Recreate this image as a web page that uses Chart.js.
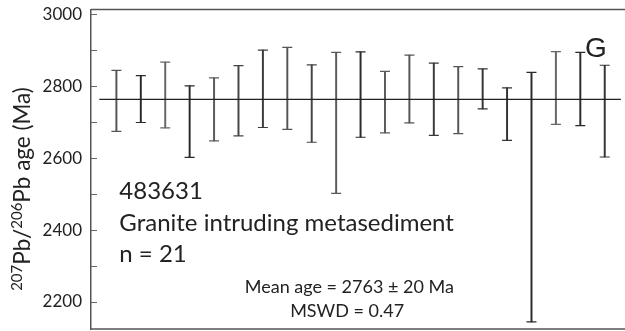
<!DOCTYPE html>
<html>
<head>
<meta charset="utf-8">
<script src="https://cdn.jsdelivr.net/npm/chart.js@4.4.1/dist/chart.umd.min.js"></script>
<style>
  html, body { margin: 0; padding: 0; background: #fff; overflow: hidden; }
  #wrap { width: 625px; height: 331px; position: relative; }
</style>
</head>
<body>
<div id="wrap"><canvas id="age-chart"></canvas></div>
<script>
// spot number along the x axis
const grains = [1, 2, 3, 4, 5, 6, 7, 8, 9, 10, 11, 12, 13, 14, 15, 16, 17, 18, 19, 20, 21];
// upper and lower end of each 207Pb/206Pb age error bar (Ma)
const ageHigh = [2844, 2829, 2867, 2801, 2823, 2857, 2900, 2908, 2859, 2894, 2895, 2841, 2886, 2864, 2854, 2848, 2795, 2838, 2896, 2894, 2858];
const ageLow  = [2674, 2699, 2684, 2602, 2648, 2662, 2685, 2680, 2644, 2502, 2658, 2670, 2698, 2663, 2668, 2737, 2649, 2145, 2694, 2690, 2603];
const barShade = ['#555', '#2a2a2a', '#666', '#2a2a2a', '#5a5a5a', '#444', '#3a3a3a', '#555', '#444', '#5a5a5a',
                  '#2a2a2a', '#5a5a5a', '#555', '#3a3a3a', '#555', '#333', '#333', '#2a2a2a', '#666', '#2a2a2a', '#333'];
const meanAge = 2763;
const yTicks = [2200, 2300, 2400, 2500, 2600, 2700, 2800, 2900, 3000];

const stems = grains.map((g, i) => ({ x: g, y: [ageLow[i], ageHigh[i]] }));
const caps = grains.map((g, i) => ({ x: g, y: ageHigh[i] }))
    .concat(grains.map((g, i) => ({ x: g, y: ageLow[i] })));

const frame = {
    id: 'frame',
    afterDraw(chart) {
        const ctx = chart.ctx;
        const a = chart.chartArea;
        const y = chart.scales.y;
        const x = chart.scales.x;
        ctx.save();
        ctx.strokeStyle = '#555';
        ctx.lineWidth = 1.5;
        ctx.beginPath();
        ctx.moveTo(a.left, a.top); ctx.lineTo(a.right, a.top);
        ctx.moveTo(a.left, a.bottom); ctx.lineTo(a.right, a.bottom);
        ctx.stroke();
        // inward tick marks
        ctx.strokeStyle = '#666';
        ctx.lineWidth = 1;
        yTicks.forEach(v => {
            const py = Math.round(y.getPixelForValue(v)) + 0.5;
            ctx.beginPath();
            ctx.moveTo(a.left, py); ctx.lineTo(a.left + 6, py);
            ctx.stroke();
        });

        // axis title with superscripts
        ctx.fillStyle = '#222';
        ctx.textBaseline = 'alphabetic';
        const big = '22.5px Lato', small = '15px Lato';
        const parts = [['207', small, -8.5], ['Pb/', big, 0], ['206', small, -8.5], ['Pb age (Ma)', big, 0]];
        let total = 0;
        parts.forEach(p => { ctx.font = p[1]; total += ctx.measureText(p[0]).width; });
        ctx.translate(30, 189);
        ctx.rotate(-Math.PI / 2);
        let cx = -total / 2;
        parts.forEach(p => {
            ctx.font = p[1];
            ctx.fillText(p[0], cx, p[2]);
            cx += ctx.measureText(p[0]).width;
        });
        ctx.setTransform(1, 0, 0, 1, 0, 0);

        // annotations
        ctx.fillStyle = '#222';
        ctx.textAlign = 'left';
        ctx.font = '24px Lato';
        ctx.fillText('483631', x.getPixelForValue(1.12), y.getPixelForValue(2485));
        ctx.fillText('Granite intruding metasediment', x.getPixelForValue(1.12), y.getPixelForValue(2397));
        ctx.fillText('n = 21', x.getPixelForValue(1.12), y.getPixelForValue(2312));
        ctx.textAlign = 'center';
        ctx.font = '18px Lato';
        ctx.fillText('Mean age = 2763 \u00b1 20 Ma', x.getPixelForValue(10.54), y.getPixelForValue(2226));
        ctx.fillText('MSWD = 0.47', x.getPixelForValue(10.45), y.getPixelForValue(2159));
        ctx.textAlign = 'left';
        ctx.font = '28px "Liberation Sans"';
        ctx.fillText('G', x.getPixelForValue(20.19), y.getPixelForValue(2881));
        ctx.restore();
    }
};

const ctx = document.getElementById('age-chart').getContext('2d');
const ageChart = new Chart(ctx, {
    type: 'bar',
    data: {
        datasets: [
            {
                type: 'line',
                data: [{ x: 0.3, y: meanAge }, { x: 21.66, y: meanAge }],
                borderColor: '#222',
                borderWidth: 1.2,
                pointRadius: 0
            },
            {
                type: 'scatter',
                data: caps,
                pointStyle: 'line',
                pointRadius: 5,
                pointBorderWidth: 1.2,
                pointBorderColor: barShade.concat(barShade)
            },
            {
                data: stems,
                backgroundColor: barShade,
                barThickness: 1.3
            }
        ]
    },
    options: {
        responsive: true,
        maintainAspectRatio: false,
        animation: false,
        layout: { autoPadding: false, padding: { top: 9.5, bottom: 2, left: 0, right: 0 } },
        plugins: { legend: { display: false }, tooltip: { enabled: false } },
        scales: {
            x: {
                type: 'linear',
                min: -0.04,
                max: 21.83,
                offset: false,
                display: false
            },
            y: {
                min: 2125,
                max: 3013,
                afterBuildTicks: s => { s.ticks = yTicks.map(v => ({ value: v })); },
                afterFit: s => { s.width = 91; s.paddingTop = 0; s.paddingBottom = 0; },
                grid: { display: false, drawTicks: false },
                border: { display: true, color: '#555', width: 1.5 },
                ticks: {
                    padding: 9,
                    color: '#222',
                    font: { family: 'Lato', size: 17 },
                    callback: v => (v % 200 === 0 ? String(v) : '')
                }
            }
        }
    },
    plugins: [frame]
});
</script>
</body>
</html>
